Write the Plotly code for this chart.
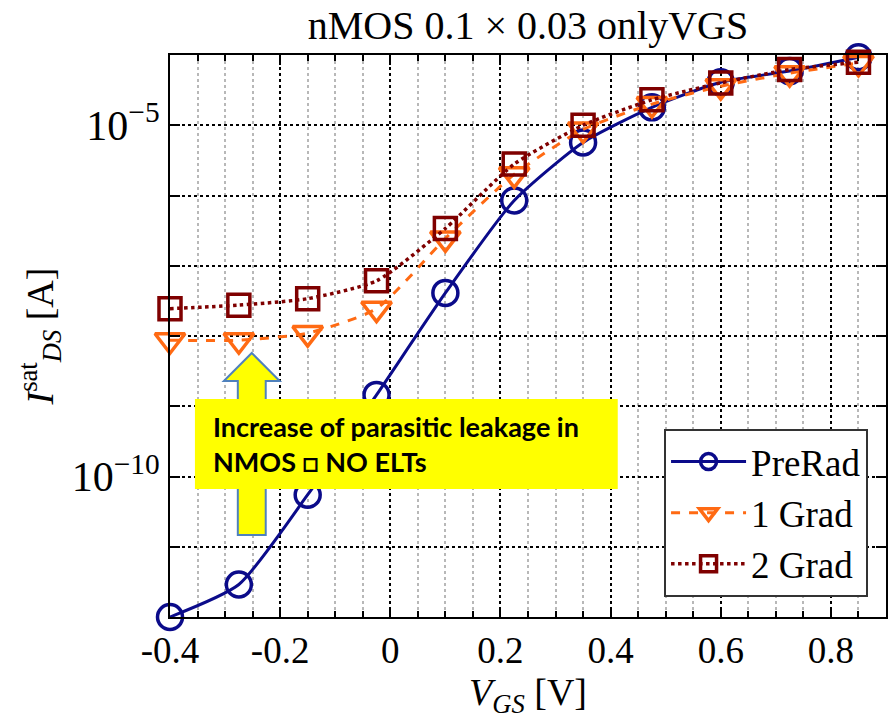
import plotly.graph_objects as go

# ---- data ----
vgs = [-0.4, -0.275, -0.15, -0.025, 0.1, 0.225, 0.35, 0.475, 0.6, 0.725, 0.85]
prerad = [1.0e-12, 2.9e-12, 5.5e-11, 1.45e-9, 4.1e-8, 8.5e-7, 5.7e-6, 1.8e-5, 4.1e-5, 5.9e-5, 9.3e-5]
grad1 = [8.7e-9, 8.7e-9, 1.1e-8, 2.45e-8, 2.45e-7, 2.0e-6, 8.7e-6, 2.0e-5, 3.6e-5, 5.5e-5, 7.7e-5]
grad2 = [2.45e-8, 2.75e-8, 3.4e-8, 6.1e-8, 3.4e-7, 2.8e-6, 1.0e-5, 2.3e-5, 4.0e-5, 6.2e-5, 7.9e-5]

x_tickvals = [-0.4, -0.2, 0, 0.2, 0.4, 0.6, 0.8]
x_ticktext = ["-0.4", "-0.2", "0", "0.2", "0.4", "0.6", "0.8"]
y_tickvals = [1e-10, 1e-5]
y_ticktext = ["10<sup>\u221210</sup>", "10<sup>\u22125</sup>"]
y_decades = [1e-12, 1e-11, 1e-9, 1e-8, 1e-7, 1e-6, 1e-4]

W, H = 889, 723
ML, MR, MT, MB = 170, 1, 55, 106
PW, PH = W - ML - MR, H - MT - MB

def px(xp):
    return (xp - ML) / PW

def py(yp):
    return (H - MB - yp) / PH

SERIF = "Liberation Serif"
NAVY = "#0b0b8a"
ORANGE = "#ff6a13"
DARKRED = "#7f0000"

fig = go.Figure()
fig.add_trace(go.Scatter(
    x=vgs, y=prerad, name="PreRad", mode="lines+markers",
    line=dict(color=NAVY, width=3, shape="spline", smoothing=0.6),
    marker=dict(symbol="circle-open", size=25, color=NAVY, line=dict(width=3.5)),
    cliponaxis=False))
fig.add_trace(go.Scatter(
    x=vgs, y=grad1, name="1 Grad", mode="lines+markers",
    line=dict(color=ORANGE, width=3, dash="dash", shape="spline", smoothing=0.6),
    marker=dict(symbol="triangle-down-open", size=26, color=ORANGE, line=dict(width=3.5)),
    cliponaxis=False))
fig.add_trace(go.Scatter(
    x=vgs, y=grad2, name="2 Grad", mode="lines+markers",
    line=dict(color=DARKRED, width=3.5, dash="dot", shape="spline", smoothing=0.6),
    marker=dict(symbol="square-open", size=22, color=DARKRED, line=dict(width=3.5)),
    cliponaxis=False))

# arrow (up) behind the yellow box
arrow_pts = [(252, 353), (280, 381), (266, 381), (266, 535), (238, 535), (238, 381), (224, 381)]
path = "M " + " L ".join(f"{px(a):.5f},{py(b):.5f}" for a, b in arrow_pts) + " Z"
shapes = [
    dict(type="path", path=path, xref="paper", yref="paper",
         fillcolor="#ffff00", line=dict(color="#4f81bd", width=2), layer="above"),
    dict(type="rect", xref="paper", yref="paper",
         x0=px(195), x1=px(619), y0=py(489), y1=py(399),
         fillcolor="#ffff00", line=dict(width=0), layer="above"),
]

fig.update_layout(
    width=W, height=H,
    margin=dict(l=ML, r=MR, t=MT, b=MB),
    paper_bgcolor="white", plot_bgcolor="white",
    font=dict(family=SERIF, size=36, color="black"),
    title=dict(text="nMOS 0.1 \u00d7 0.03 onlyVGS", x=0.5, xref="paper",
               y=1 - 25 / H, yref="container", yanchor="middle",
               font=dict(family=SERIF, size=40, color="black")),
    showlegend=True,
    legend=dict(x=px(870), y=py(597), xanchor="right", yanchor="bottom",
                bgcolor="white", bordercolor="#333333", borderwidth=2,
                font=dict(family=SERIF, size=37, color="black"),
                itemwidth=75, tracegroupgap=0),
    shapes=shapes,
    annotations=[dict(
        text="<b>Increase of parasitic leakage in<br>NMOS \u25a1 NO ELTs</b>",
        xref="paper", yref="paper", x=px(211), y=py(444),
        xanchor="left", yanchor="middle", align="left", showarrow=False,
        font=dict(family="Lato", size=27, color="black"))],
)

fig.update_xaxes(
    range=[-0.4, 0.9], tickvals=x_tickvals, ticktext=x_ticktext,
    showline=True, linecolor="black", linewidth=2, mirror="ticks",
    ticks="inside", ticklen=10, tickwidth=2, tickcolor="black",
    showgrid=True, gridcolor="black", griddash="dot", gridwidth=1.5,
    zeroline=False,
    tickfont=dict(family=SERIF, size=37),
    minor=dict(dtick=0.05, tick0=0, showgrid=True, gridcolor="#b8b8b8",
               griddash="dot", gridwidth=1.5, ticks="inside", ticklen=6,
               tickwidth=1.5, tickcolor="black"),
    title=dict(text="<i>V<sub>GS</sub></i> [V]", standoff=8,
               font=dict(family=SERIF, size=38)),
)
fig.update_yaxes(
    type="log", range=[-12, -4], tickvals=y_tickvals, ticktext=y_ticktext,
    showline=True, linecolor="black", linewidth=2, mirror="ticks",
    ticks="inside", ticklen=10, tickwidth=2, tickcolor="black",
    showgrid=True, gridcolor="black", griddash="dot", gridwidth=1.5,
    zeroline=False,
    tickfont=dict(family=SERIF, size=42),
    minor=dict(tickvals=y_decades, showgrid=True, gridcolor="black",
               griddash="dot", gridwidth=1.5, ticks="inside", ticklen=10,
               tickwidth=2, tickcolor="black"),
    title=dict(text="<i>I</i><sup>sat</sup><sub><i>DS</i></sub> [A]", standoff=6,
               font=dict(family=SERIF, size=38)),
)

fig.write_html("out.html")
